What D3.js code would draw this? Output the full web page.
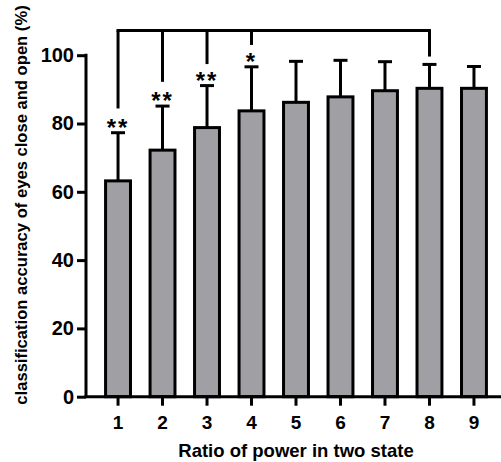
<!DOCTYPE html>
<html>
<head>
<meta charset="utf-8">
<script src="https://cdn.jsdelivr.net/npm/d3@7"></script>
<style>
  body { margin: 0; background: #fff; }
  svg text { font-family: "Liberation Sans", Arial, sans-serif; font-weight: bold; fill: #000; }
</style>
</head>
<body>
<div id="chart"></div>
<script>
// data
var categories = ["1", "2", "3", "4", "5", "6", "7", "8", "9"];
var means = [63.2, 72.2, 78.8, 83.7, 86.2, 87.8, 89.6, 90.3, 90.3];
var errors = [14.1, 12.9, 12.3, 12.9, 12.0, 10.7, 8.5, 7.0, 6.4];
var stars = ["**", "**", "**", "*", "", "", "", "", ""];
var yTicks = [0, 20, 40, 60, 80, 100];
// significance bracket: bar it drops to and where the drop ends (value units)
var bracketBars = ["1", "2", "3", "4", "8"];
var bracketEnds = [84.4, 92.2, 97.4, 103.0, 99.6];
var bracketLevel = 107.2;

var width = 501, height = 462;

var svg = d3.select("#chart").append("svg")
    .attr("width", width)
    .attr("height", height);

var x = d3.scaleBand()
    .domain(categories)
    .range([86, 506])
    .paddingInner(0.44)
    .paddingOuter(0.44);

var y = d3.scaleLinear()
    .domain([0, 100])
    .range([396.7, 55.2]);

// bars
svg.append("g").selectAll("rect")
    .data(means)
    .enter().append("rect")
    .attr("x", function (d, i) { return x(categories[i]); })
    .attr("y", function (d) { return y(d); })
    .attr("width", x.bandwidth())
    .attr("height", function (d) { return y(0) - y(d); })
    .attr("fill", "#a09fa4")
    .attr("stroke", "#000")
    .attr("stroke-width", 3);

// error bars (upper only)
var err = svg.append("g").attr("stroke", "#000").attr("stroke-width", 3);
means.forEach(function (m, i) {
    var cx = x(categories[i]) + x.bandwidth() / 2;
    err.append("line")
        .attr("x1", cx).attr("x2", cx)
        .attr("y1", y(m)).attr("y2", y(m + errors[i]));
    err.append("line")
        .attr("x1", cx - 7).attr("x2", cx + 7)
        .attr("y1", y(m + errors[i])).attr("y2", y(m + errors[i]));
});

// stars
svg.append("g").selectAll("text")
    .data(stars)
    .enter().append("text")
    .attr("x", function (d, i) { return x(categories[i]) + x.bandwidth() / 2; })
    .attr("y", function (d, i) { return y(means[i] + errors[i]) + 3; })
    .attr("text-anchor", "middle")
    .attr("font-size", "24px")
    .attr("letter-spacing", "2px")
    .text(function (d) { return d; });

// bracket
var br = svg.append("g").attr("stroke", "#000").attr("stroke-width", 3).attr("fill", "none");
var bx0 = x(bracketBars[0]) + x.bandwidth() / 2;
var bx1 = x(bracketBars[bracketBars.length - 1]) + x.bandwidth() / 2;
br.append("line")
    .attr("x1", bx0 - 1.5).attr("x2", bx1 + 1.5)
    .attr("y1", y(bracketLevel)).attr("y2", y(bracketLevel));
bracketBars.forEach(function (b, i) {
    var cx = x(b) + x.bandwidth() / 2;
    br.append("line")
        .attr("x1", cx).attr("x2", cx)
        .attr("y1", y(bracketLevel)).attr("y2", y(bracketEnds[i]));
});

// y axis
var yAxis = svg.append("g")
    .attr("transform", "translate(86,0)")
    .call(d3.axisLeft(y).tickValues(yTicks).tickSize(9).tickPadding(3));
yAxis.select(".domain").attr("stroke-width", 3).attr("d", "M0," + y(0) + "V" + (y(100) - 1.5));
yAxis.selectAll(".tick line").attr("stroke-width", 3);
yAxis.selectAll(".tick text").attr("font-size", "20px").attr("font-family", "Liberation Sans, Arial, sans-serif").attr("font-weight", "bold").attr("fill", "#000");

// x axis
var xAxis = svg.append("g")
    .attr("transform", "translate(0," + y(0) + ")")
    .call(d3.axisBottom(x).tickSize(9).tickPadding(10));
xAxis.select(".domain").attr("stroke-width", 3).attr("d", "M84.5,0H506");
xAxis.selectAll(".tick line").attr("stroke-width", 3);
xAxis.selectAll(".tick text").attr("font-size", "19px").attr("font-family", "Liberation Sans, Arial, sans-serif").attr("font-weight", "bold").attr("fill", "#000");

// axis titles
svg.append("text")
    .attr("x", 296)
    .attr("y", 457)
    .attr("text-anchor", "middle")
    .attr("font-size", "18.5px")
    .text("Ratio of power in two state");

svg.append("text")
    .attr("transform", "translate(27,205) rotate(-90)")
    .attr("text-anchor", "middle")
    .attr("font-size", "16.6px")
    .text("classification accuracy of eyes close and open (%)");
</script>
</body>
</html>
